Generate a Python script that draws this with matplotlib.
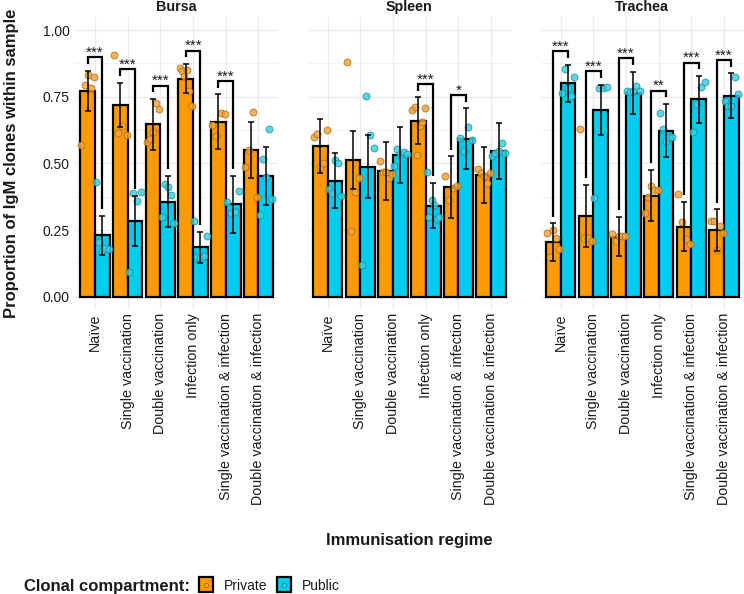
import numpy as np
import matplotlib
matplotlib.use("Agg")
import matplotlib.pyplot as plt
from matplotlib.patches import Rectangle
from matplotlib.lines import Line2D

plt.rcParams['font.family'] = ['Liberation Sans', 'DejaVu Sans']

# ---------------- data ----------------
tissues = ['Bursa', 'Spleen', 'Trachea']
regimes = ['Naïve', 'Single vaccination', 'Double vaccination', 'Infection only',
           'Single vaccination & infection', 'Double vaccination & infection']

bursa_private_mean = [0.771, 0.719, 0.646, 0.8175, 0.656, 0.549]
bursa_private_err = [0.076, 0.083, 0.095, 0.055, 0.103, 0.105]
bursa_public_mean = [0.231, 0.284, 0.356, 0.185, 0.346, 0.4525]
bursa_public_err = [0.073, 0.095, 0.096, 0.058, 0.108, 0.108]
bursa_private_pts = [[0.569, 0.794, 0.830, 0.784, 0.8225],
                     [0.906, 0.615, 0.641, 0.606],
                     [0.579, 0.591, 0.6175, 0.725, 0.7025],
                     [0.859, 0.846, 0.829, 0.85, 0.771, 0.715],
                     [0.6425, 0.6025, 0.6875, 0.684],
                     [0.485, 0.551, 0.6925, 0.3725]]
bursa_public_pts = [[0.431, 0.206, 0.1725, 0.181, 0.1775],
                    [0.094, 0.3875, 0.3575, 0.394],
                    [0.300, 0.4225, 0.41, 0.381, 0.275],
                    [0.285, 0.1475, 0.144, 0.1525, 0.229],
                    [0.356, 0.3125, 0.3175, 0.396],
                    [0.306, 0.5175, 0.45, 0.629, 0.366]]
bursa_sig = ['***', '***', '***', '***', '***', '']

spleen_private_mean = [0.566, 0.5125, 0.471, 0.66, 0.41, 0.456]
spleen_private_err = [0.101, 0.110, 0.109, 0.088, 0.116, 0.106]
spleen_public_mean = [0.435, 0.4875, 0.531, 0.341, 0.5925, 0.546]
spleen_public_err = [0.103, 0.119, 0.105, 0.085, 0.114, 0.106]
spleen_private_pts = [[0.5975, 0.61, 0.4875, 0.5, 0.625],
                      [0.88, 0.246, 0.394, 0.444],
                      [0.509, 0.469, 0.469, 0.446, 0.46],
                      [0.70, 0.71, 0.531, 0.64, 0.655, 0.706],
                      [0.454, 0.3625, 0.409, 0.416],
                      [0.4775, 0.465, 0.454, 0.425, 0.464]]
spleen_public_pts = [[0.4025, 0.39, 0.5125, 0.5, 0.3775],
                     [0.119, 0.754, 0.606, 0.556],
                     [0.491, 0.554, 0.535, 0.541, 0.534],
                     [0.469, 0.30, 0.3625, 0.344, 0.291, 0.2975],
                     [0.594, 0.5475, 0.6375, 0.5875],
                     [0.5275, 0.5375, 0.5475, 0.575, 0.5375]]
spleen_sig = ['', '', '', '***', '*', '']

trachea_private_mean = [0.204, 0.304, 0.225, 0.379, 0.2625, 0.25]
trachea_private_err = [0.071, 0.116, 0.074, 0.097, 0.092, 0.078]
trachea_public_mean = [0.80, 0.70, 0.765, 0.6225, 0.74, 0.754]
trachea_public_err = [0.070, 0.095, 0.079, 0.100, 0.088, 0.083]
trachea_private_pts = [[0.24, 0.1475, 0.25, 0.219, 0.1775],
                       [0.629, 0.219, 0.219, 0.21],
                       [0.235, 0.21, 0.229, 0.229, 0.229],
                       [0.3125, 0.375, 0.415, 0.40, 0.40],
                       [0.384, 0.279, 0.215, 0.196],
                       [0.284, 0.284, 0.175, 0.265, 0.24]]
trachea_public_pts = [[0.7625, 0.854, 0.781, 0.754, 0.8225],
                      [0.371, 0.784, 0.781, 0.7875],
                      [0.7725, 0.769, 0.7725, 0.79, 0.7725],
                      [0.6875, 0.6275, 0.585, 0.60, 0.60],
                      [0.619, 0.7225, 0.785, 0.804],
                      [0.735, 0.715, 0.715, 0.825, 0.761]]
trachea_sig = ['***', '***', '***', '**', '***', '***']

y_ticks = [0.00, 0.25, 0.50, 0.75, 1.00]
y_ticklabels = ['0.00', '0.25', '0.50', '0.75', '1.00']
legend_labels = ['Private', 'Public']

panels = [
    (bursa_private_mean, bursa_private_err, bursa_public_mean, bursa_public_err,
     bursa_private_pts, bursa_public_pts, bursa_sig),
    (spleen_private_mean, spleen_private_err, spleen_public_mean, spleen_public_err,
     spleen_private_pts, spleen_public_pts, spleen_sig),
    (trachea_private_mean, trachea_private_err, trachea_public_mean, trachea_public_err,
     trachea_private_pts, trachea_public_pts, trachea_sig),
]

# ---------------- style ----------------
ORANGE = '#FF9900'
BLUE = '#00CCEE'
ORANGE_PT = '#F5A53A'
ORANGE_PT_EDGE = '#A8680E'
BLUE_PT = '#3DD0E2'
BLUE_PT_EDGE = '#1A8898'
GRID = '#EBEBEB'
TXT = '#1A1A1A'

W, H = 744, 594
fig = plt.figure(figsize=(W / 100, H / 100), dpi=100)

def px_axes(left, top, right, bottom):
    return fig.add_axes([left / W, 1 - bottom / H, (right - left) / W, (bottom - top) / H])

panel_left = [75.4, 308.1, 541.0]
panel_w = 202.7
panel_top, panel_bottom = 16.7, 310.0

bw = 0.45
x = np.arange(len(regimes))

for k, (pm, pe, um, ue, ppts, upts, sig) in enumerate(panels):
    ax = px_axes(panel_left[k], panel_top, panel_left[k] + panel_w, panel_bottom)
    ax.set_xlim(-0.6, len(regimes) - 0.4)
    ax.set_ylim(-0.05, 1.05)
    for s in ax.spines.values():
        s.set_visible(False)
    ax.set_yticks(y_ticks)
    ax.set_yticks([0.125, 0.375, 0.625, 0.875], minor=True)
    ax.set_xticks(x)
    ax.grid(True, which='major', color=GRID, linewidth=0.9, zorder=0)
    ax.grid(True, which='minor', axis='y', color=GRID, linewidth=0.45, zorder=0)
    ax.set_axisbelow(True)
    ax.tick_params(which='both', length=0)
    ax.tick_params(axis='y', pad=4, labelsize=10, labelcolor=TXT)
    ax.tick_params(axis='x', pad=2.2, labelsize=10.3, labelcolor=TXT)
    ax.set_xticklabels(regimes, rotation=90, va='top', ha='center')
    if k == 0:
        ax.set_yticklabels(y_ticklabels)
    else:
        ax.tick_params(axis='y', labelleft=False)

    xo = x - bw / 2
    xb = x + bw / 2
    ax.bar(xo, pm, width=bw, color=ORANGE, edgecolor='black', linewidth=1.6, zorder=2)
    ax.bar(xb, um, width=bw, color=BLUE, edgecolor='black', linewidth=1.6, zorder=2)

    for i in range(len(regimes)):
        n = len(ppts[i])
        ax.scatter(xo[i] + np.linspace(-0.19, 0.19, n), ppts[i], s=25,
                   facecolor=ORANGE_PT, edgecolor=ORANGE_PT_EDGE, linewidth=0.6,
                   alpha=0.85, zorder=3)
        n = len(upts[i])
        ax.scatter(xb[i] + np.linspace(-0.19, 0.19, n), upts[i], s=25,
                   facecolor=BLUE_PT, edgecolor=BLUE_PT_EDGE, linewidth=0.6,
                   alpha=0.85, zorder=3)

    ax.errorbar(xo, pm, yerr=pe, fmt='none', ecolor='black', elinewidth=1.1,
                capsize=2.4, capthick=1.1, zorder=4)
    ax.errorbar(xb, um, yerr=ue, fmt='none', ecolor='black', elinewidth=1.1,
                capsize=2.4, capthick=1.1, zorder=4)

    for i, lab in enumerate(sig):
        if not lab:
            continue
        hi_o = pm[i] + pe[i]
        hi_u = um[i] + ue[i]
        top = max(hi_o, hi_u) + 0.05
        ax.plot([xo[i], xo[i], xb[i], xb[i]], [hi_o + 0.025, top, top, hi_u + 0.025],
                color='black', linewidth=1.6, solid_capstyle='butt',
                solid_joinstyle='miter', zorder=5)
        ax.text((xo[i] + xb[i]) / 2, top + 0.002, lab, ha='center', va='baseline',
                fontsize=11, color=TXT, zorder=6)

    fig.text((panel_left[k] + panel_w / 2) / W, 1 - 6.7 / H, tissues[k], ha='center',
             va='center', fontsize=10.3, fontweight='bold', color=TXT)

fig.text(12 / W, 1 - 163 / H, 'Proportion of IgM clones within sample', rotation=90,
         ha='center', va='center', fontsize=12, fontweight='bold', color=TXT)
fig.text(409.5 / W, 1 - 540 / H, 'Immunisation regime', ha='center', va='center',
         fontsize=12, fontweight='bold', color=TXT)

# legend
base = 1 - 590.5 / H
fig.text(24 / W, base, 'Clonal compartment:', ha='left', va='baseline', fontsize=12,
         fontweight='bold', color=TXT)
for kx, tx, col, pcol, pedge, lab in [(199.3, 224, ORANGE, ORANGE_PT, ORANGE_PT_EDGE, legend_labels[0]),
                                      (276.7, 301.7, BLUE, BLUE_PT, BLUE_PT_EDGE, legend_labels[1])]:
    fig.add_artist(Rectangle((kx / W, 1 - 592.3 / H), 14 / W, 15.6 / H,
                             transform=fig.transFigure, facecolor=col,
                             edgecolor='black', linewidth=1.6))
    fig.add_artist(Line2D([(kx + 7) / W], [1 - 584.5 / H], transform=fig.transFigure,
                          marker='o', markersize=3.2, markerfacecolor=pcol,
                          markeredgecolor=pedge, markeredgewidth=0.6, linestyle='none'))
    fig.text(tx / W, base, lab, ha='left', va='baseline', fontsize=10, color=TXT)

fig.savefig('out.png', dpi=100)
